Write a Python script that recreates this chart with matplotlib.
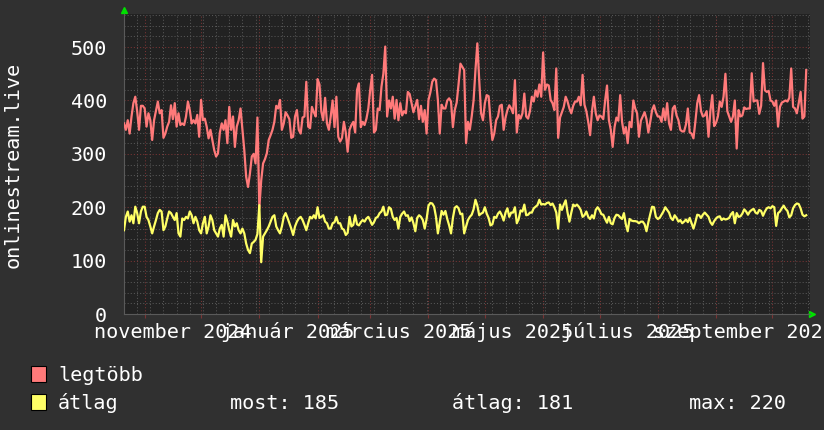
import numpy as np
import pandas as pd
import matplotlib
matplotlib.use("Agg")
import matplotlib.pyplot as plt
from matplotlib.patches import Rectangle

plt.rcParams['font.family'] = ['DejaVu Sans Mono']

# daily values, first day 2024-10-21
start = "2024-10-21"

legtobb = [
    357, 345, 363, 338, 370, 395, 407, 380, 345, 390,
    390, 385, 351, 376, 363, 326, 363, 380, 398, 376,
    382, 330, 338, 351, 360, 391, 365, 395, 351, 376,
    354, 357, 354, 370, 398, 382, 357, 363, 357, 373,
    332, 401, 363, 366, 351, 329, 345, 326, 307, 295,
    301, 340, 357, 345, 363, 320, 388, 345, 370, 313,
    351, 363, 385, 345, 307, 257, 238, 263, 295, 300,
    282, 368, 198, 250,
    282, 290, 301, 326, 335, 345, 360, 390, 385, 401,
    345, 357, 378, 372, 365, 330, 332, 370, 382, 345,
    338, 368, 370, 435, 351, 348, 388, 378, 370, 440,
    430, 379, 363, 405, 357, 345, 370, 400, 350, 407,
    332, 323, 330, 360, 340, 304, 345, 354, 360, 340,
    420, 432, 350, 360, 354, 366, 385, 420, 448, 340,
    345, 385, 382, 426, 450, 501, 370, 400, 385, 407,
    366, 401, 363, 395,
    372, 380, 376, 416, 412, 395, 378, 390, 401, 365,
    390, 360, 382, 338, 401, 415, 435, 441, 438, 401,
    338, 392, 385, 385, 400, 404, 398, 350, 382, 396,
    430, 469, 463, 457, 320, 360, 345, 370, 400, 457,
    507, 438, 376, 363, 395, 410, 408, 363, 326, 338,
    363, 370, 390, 392, 345, 368, 382, 391, 385, 376,
    438, 340, 373, 366, 376, 413, 370, 366, 380, 407,
    398, 419, 407,
    430, 407, 490, 420, 430, 428, 401, 395, 382, 460,
    330, 368, 378, 388, 407, 398, 385, 376, 390, 398,
    398, 407, 391, 448, 392, 380, 360, 335, 380, 407,
    376, 363, 372, 370, 365, 400, 428, 363, 345, 313,
    350, 368, 362, 410, 360, 338, 350, 320, 360, 350,
    400, 385, 376, 332, 362, 370, 378, 365, 340, 360,
    382, 391, 378, 370, 370, 360, 385, 363, 395, 357,
    345, 385, 390,
    372, 363, 345, 342, 342, 355, 385, 340, 338, 329,
    360, 395, 410, 380, 370, 372, 380, 332, 380, 410,
    352, 358, 370, 398, 388, 407, 450, 380, 370, 360,
    370, 400, 310, 382, 370, 372, 387, 384, 385, 385,
    451, 398, 400, 400, 375, 390, 470, 419, 416, 418,
    400, 398, 390, 400, 351, 388, 396, 398, 400, 398,
    405, 460, 388, 385, 376, 395, 416, 366, 370, 457,
]

atlag = [
    157, 182, 192, 173, 185, 170, 201, 189, 170, 192,
    201, 201, 182, 176, 164, 151, 164, 176, 189, 195,
    192, 157, 164, 179, 192, 189, 182, 176, 189, 151,
    145, 179, 176, 182, 179, 192, 185, 170, 182, 173,
    157, 151, 170, 182, 151, 164, 185, 176, 157, 151,
    145, 160, 167, 145, 185, 173, 157, 145, 176, 164,
    170, 157, 151, 160, 151, 132, 120, 114, 132, 135,
    139, 150, 204, 97,
    145, 151, 157, 164, 173, 182, 185, 164, 157, 151,
    164, 182, 189, 180, 170, 160, 148, 164, 173, 179,
    182, 176, 167, 157, 170, 182, 179, 185, 179, 200,
    180, 182, 185, 173, 170, 160, 160, 170, 172, 182,
    170, 170, 160, 158, 148, 152, 182, 164, 167, 185,
    168, 166, 172, 176, 173, 179, 182, 175, 167, 172,
    180, 182, 189, 192, 201, 185, 186, 200, 197, 182,
    176, 180, 160, 182,
    188, 192, 184, 185, 174, 181, 170, 155, 180, 185,
    182, 176, 160, 178, 203, 208, 207, 201, 182, 151,
    172, 193, 186, 193, 178, 166, 151, 180, 199, 202,
    198, 187, 188, 151, 164, 176, 182, 186, 196, 214,
    203, 185, 188, 190, 200, 188, 180, 166, 168, 182,
    180, 188, 192, 185, 175, 190, 198, 182, 190, 190,
    200, 170, 178, 194, 192, 205, 185, 186, 190, 190,
    198, 201, 204,
    214, 205, 206, 205, 208, 209, 204, 207, 200, 190,
    160, 205, 195, 205, 213, 190, 173, 190, 205, 202,
    205, 201, 195, 182, 185, 192, 182, 178, 185, 179,
    195, 200, 195, 187, 186, 178, 171, 182, 170, 168,
    180, 186, 185, 181, 178, 189, 168, 155, 178, 175,
    174, 174, 173, 170, 173, 173, 168, 155, 172, 187,
    201, 200, 182, 178, 180, 186, 192, 200, 195, 190,
    180, 176, 185,
    180, 173, 176, 170, 173, 177, 172, 180, 170, 160,
    172, 186, 185, 180, 186, 190, 186, 182, 172, 167,
    174, 179, 182, 183, 176, 179, 177, 178, 180, 187,
    191, 170, 189, 182, 183, 188, 196, 192, 186, 192,
    195, 197, 190, 188, 195, 193, 184, 192, 198, 200,
    198, 202, 200, 165, 189, 192, 198, 203, 197, 193,
    181, 185, 198, 204, 207, 206, 198, 186, 183, 185,
]

month_labels = ["november 2024", "január 2025", "március 2025",
                "május 2025", "július 2025", "szeptember 2025"]
label_months = ["2024-11-01", "2025-01-01", "2025-03-01",
                "2025-05-01", "2025-07-01", "2025-09-01"]
yticks = [0, 100, 200, 300, 400, 500]

series_names = ["legtöbb", "átlag"]
stat_most, stat_atlag, stat_max = 185, 181, 220

BG = "#303030"
PLOT_BG = "#222222"
MINOR = "#575757"
MAJOR = "#7a3434"
RED = "#ff7a7a"
YELLOW = "#ffff66"

dates = pd.date_range(start, periods=len(legtobb), freq="D")
x0 = pd.Timestamp("2024-10-21")
x1 = pd.Timestamp("2025-10-21")

fig = plt.figure(figsize=(8.24, 4.30), dpi=100, facecolor=BG)
ax = fig.add_axes([124 / 824, 116 / 430, 686 / 824, 300 / 430], facecolor=PLOT_BG)

ax.plot(dates, legtobb, color=RED, lw=1.6, zorder=3)
ax.plot(dates, atlag, color=YELLOW, lw=1.6, zorder=3)

ax.set_xlim(x0, x1)
ax.set_ylim(0, 562)

# grid like rrdtool: weekly / 20 minor, monthly / 100 major
for d in pd.date_range(x0, x1, freq="W-MON"):
    ax.axvline(d, color=MINOR, lw=0.75, ls=(0, (1, 2)), zorder=1)
for m in pd.date_range("2024-11-01", x1, freq="MS"):
    ax.axvline(m, color=MAJOR, lw=0.75, ls=(0, (1, 2)), zorder=1)
for v in range(20, 562, 20):
    if v % 100:
        ax.axhline(v, color=MINOR, lw=0.75, ls=(0, (1, 2)), zorder=1)
    else:
        ax.axhline(v, color=MAJOR, lw=0.75, ls=(0, (1, 2)), zorder=1)

for s in ["top", "right"]:
    ax.spines[s].set_visible(False)
ax.spines["left"].set_color("#5a5a5a")
ax.spines["bottom"].set_color("#5a5a5a")

ax.set_yticks(yticks)
ax.tick_params(axis="y", length=0, pad=12, labelsize=14.5, labelcolor="white")
ax.set_xticks(pd.date_range("2024-11-01", x1, freq="MS"))
ax.set_xticklabels([])
ax.tick_params(axis="x", length=3, color=MAJOR, direction="out")

# month labels are centred half a month after the month start
for lab, m in zip(month_labels, label_months):
    ax.text(pd.Timestamp(m) + pd.Timedelta(days=15), -0.08, lab,
            transform=ax.get_xaxis_transform(), ha="center", va="baseline",
            color="white", fontsize=14.5, clip_on=False)

# green arrows
ax.plot([0], [1.015], marker="^", color="#00e000", ms=4.5,
        transform=ax.transAxes, clip_on=False)
ax.plot([1.003], [0], marker=">", color="#00e000", ms=4.5,
        transform=ax.transAxes, clip_on=False)

fig.text(13 / 824, (430 - 165) / 430, "onlinestream.live", rotation=90,
         ha="center", va="center", color="white", fontsize=14.5)

# legend
for i, (name, col) in enumerate(zip(series_names, [RED, YELLOW])):
    top = 366 + 28 * i
    fig.patches.append(Rectangle((31 / 824, (430 - top - 16) / 430), 15 / 824, 16 / 430,
                                 transform=fig.transFigure, facecolor=col,
                                 edgecolor="black", lw=0.8))
    fig.text(58 / 824, (430 - 381 - 28 * i) / 430, name, color="white",
             fontsize=14.5, va="baseline")

fig.text(230 / 824, (430 - 409) / 430, "most: {}".format(stat_most), color="white",
         fontsize=14.5, va="baseline")
fig.text(452 / 824, (430 - 409) / 430, "átlag: {}".format(stat_atlag), color="white",
         fontsize=14.5, va="baseline")
fig.text(689 / 824, (430 - 409) / 430, "max: {}".format(stat_max), color="white",
         fontsize=14.5, va="baseline")

fig.savefig("out.png", dpi=100, facecolor=BG)
